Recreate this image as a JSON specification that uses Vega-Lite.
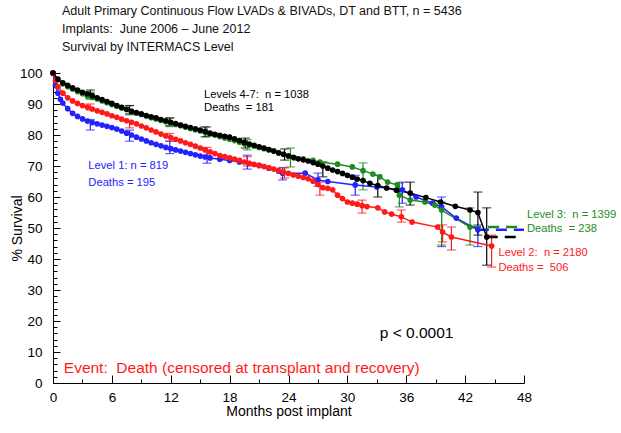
{
  "$schema": "https://vega.github.io/schema/vega-lite/v6.json",
  "width": 471,
  "height": 310,
  "autosize": "none",
  "padding": {"left": 53, "top": 73, "right": 97, "bottom": 50},
  "background": "white",
  "config": {"view": {"stroke": null}, "font": "Liberation Sans"},
  "title": {
    "text": ["Adult Primary Continuous Flow LVADs & BIVADs, DT and BTT, n = 5436", "Implants:\u00a0 June 2006 \u2013 June 2012", "Survival by INTERMACS Level"],
    "anchor": "start", "frame": "group", "dx": 9, "fontSize": 12.5, "fontWeight": "normal",
    "font": "Liberation Sans", "color": "#111", "lineHeight": 18, "baseline": "bottom", "offset": 0
  },
  "datasets": {
    "surv": [
      {"g":"1","m":0,"s":100},{"g":"1","m":0.25,"s":96},{"g":"1","m":0.5,"s":93.5},{"g":"1","m":0.75,"s":91.5},{"g":"1","m":1,"s":90.3},{"g":"1","m":1.5,"s":88.5},{"g":"1","m":2,"s":87},{"g":"1","m":2.5,"s":86},{"g":"1","m":3,"s":85.2},{"g":"1","m":3.5,"s":84.5},{"g":"1","m":4,"s":84},{"g":"1","m":4.5,"s":83.6},{"g":"1","m":5,"s":83.2},{"g":"1","m":5.5,"s":82.8},{"g":"1","m":6,"s":82.4},{"g":"1","m":6.5,"s":81.9},{"g":"1","m":7,"s":81.3},{"g":"1","m":7.5,"s":80.6},{"g":"1","m":8,"s":80},{"g":"1","m":8.5,"s":79.3},{"g":"1","m":9,"s":78.7},{"g":"1","m":9.5,"s":78.1},{"g":"1","m":10,"s":77.5},{"g":"1","m":10.5,"s":77},{"g":"1","m":11,"s":76.5},{"g":"1","m":11.5,"s":76},{"g":"1","m":12,"s":75.6},{"g":"1","m":12.5,"s":75.2},{"g":"1","m":13,"s":74.8},{"g":"1","m":13.5,"s":74.4},{"g":"1","m":14,"s":74},{"g":"1","m":14.5,"s":73.6},{"g":"1","m":15,"s":73.2},{"g":"1","m":15.5,"s":72.9},{"g":"1","m":16,"s":72.6},{"g":"1","m":17,"s":72.2},{"g":"1","m":18,"s":71.8},{"g":"1","m":19,"s":71.3},{"g":"1","m":20,"s":70.8},{"g":"1","m":21,"s":70.2},{"g":"1","m":22,"s":69.3},{"g":"1","m":23,"s":68.3},{"g":"1","m":23.4,"s":67.7},{"g":"1","m":25.7,"s":67.7},{"g":"1","m":27,"s":65.5},{"g":"1","m":28,"s":65},{"g":"1","m":30.8,"s":63.9},{"g":"1","m":33,"s":63.2},{"g":"1","m":35.6,"s":62.3},{"g":"1","m":37,"s":60},{"g":"1","m":38.7,"s":58},{"g":"1","m":39.6,"s":56.8},{"g":"1","m":41.1,"s":53.2},{"g":"1","m":43.3,"s":49.4},

      {"g":"3","m":0,"s":100},{"g":"3","m":0.5,"s":97.8},{"g":"3","m":1,"s":96.5},{"g":"3","m":1.5,"s":95.6},{"g":"3","m":2,"s":94.8},{"g":"3","m":2.5,"s":94},{"g":"3","m":3,"s":93.3},{"g":"3","m":3.5,"s":92.6},{"g":"3","m":4,"s":92.1},{"g":"3","m":4.5,"s":91.6},{"g":"3","m":5,"s":91},{"g":"3","m":5.5,"s":90.4},{"g":"3","m":6,"s":89.8},{"g":"3","m":6.5,"s":89.3},{"g":"3","m":7,"s":88.7},{"g":"3","m":7.5,"s":88.2},{"g":"3","m":8,"s":87.6},{"g":"3","m":8.5,"s":87.1},{"g":"3","m":9,"s":86.6},{"g":"3","m":9.5,"s":86.1},{"g":"3","m":10,"s":85.6},{"g":"3","m":10.5,"s":85.2},{"g":"3","m":11,"s":84.7},{"g":"3","m":11.5,"s":84.3},{"g":"3","m":12,"s":83.8},{"g":"3","m":12.5,"s":83.4},{"g":"3","m":13,"s":83},{"g":"3","m":13.5,"s":82.5},{"g":"3","m":14,"s":82.1},{"g":"3","m":14.5,"s":81.7},{"g":"3","m":15,"s":81.3},{"g":"3","m":15.5,"s":80.9},{"g":"3","m":16,"s":80.4},{"g":"3","m":16.5,"s":80},{"g":"3","m":17,"s":79.5},{"g":"3","m":17.5,"s":79},{"g":"3","m":18,"s":78.6},{"g":"3","m":18.5,"s":78.2},{"g":"3","m":19,"s":77.7},{"g":"3","m":19.5,"s":77.2},{"g":"3","m":20,"s":76.8},{"g":"3","m":20.5,"s":76.4},{"g":"3","m":21,"s":76},{"g":"3","m":21.5,"s":75.6},{"g":"3","m":22,"s":75.2},{"g":"3","m":22.5,"s":74.8},{"g":"3","m":23,"s":74.3},{"g":"3","m":23.5,"s":73.8},{"g":"3","m":24,"s":73.3},{"g":"3","m":24.6,"s":72.6},{"g":"3","m":25.5,"s":72.3},{"g":"3","m":26.5,"s":71.8},{"g":"3","m":27.2,"s":71.3},{"g":"3","m":29,"s":70.6},{"g":"3","m":30.5,"s":69.7},{"g":"3","m":31.6,"s":68.5},{"g":"3","m":32.6,"s":67.4},{"g":"3","m":33.3,"s":66.5},{"g":"3","m":34.1,"s":64.8},{"g":"3","m":35.1,"s":63.9},{"g":"3","m":35.3,"s":60.6},{"g":"3","m":36.4,"s":59},{"g":"3","m":37.9,"s":58.4},{"g":"3","m":38.9,"s":57.4},{"g":"3","m":39.6,"s":55.8},{"g":"3","m":42.5,"s":50.3},

      {"g":"2","m":0,"s":100},{"g":"2","m":0.25,"s":97.5},{"g":"2","m":0.5,"s":95.5},{"g":"2","m":1,"s":93.5},{"g":"2","m":1.5,"s":92},{"g":"2","m":2,"s":91},{"g":"2","m":2.5,"s":90.2},{"g":"2","m":3,"s":89.5},{"g":"2","m":3.5,"s":89},{"g":"2","m":4,"s":88.4},{"g":"2","m":4.5,"s":87.8},{"g":"2","m":5,"s":87.3},{"g":"2","m":5.5,"s":86.8},{"g":"2","m":6,"s":86.2},{"g":"2","m":6.5,"s":85.7},{"g":"2","m":7,"s":85.1},{"g":"2","m":7.5,"s":84.6},{"g":"2","m":8,"s":84.1},{"g":"2","m":8.5,"s":83.6},{"g":"2","m":9,"s":82.9},{"g":"2","m":9.5,"s":82.3},{"g":"2","m":10,"s":81.6},{"g":"2","m":10.5,"s":81},{"g":"2","m":11,"s":80.3},{"g":"2","m":11.5,"s":79.7},{"g":"2","m":12,"s":79.2},{"g":"2","m":12.5,"s":78.6},{"g":"2","m":13,"s":78.1},{"g":"2","m":13.5,"s":77.5},{"g":"2","m":14,"s":77},{"g":"2","m":14.5,"s":76.4},{"g":"2","m":15,"s":75.8},{"g":"2","m":15.5,"s":75.2},{"g":"2","m":16,"s":74.6},{"g":"2","m":16.5,"s":74},{"g":"2","m":17,"s":73.4},{"g":"2","m":17.5,"s":73},{"g":"2","m":18,"s":72.6},{"g":"2","m":18.5,"s":72.2},{"g":"2","m":19,"s":71.8},{"g":"2","m":19.5,"s":71.3},{"g":"2","m":20,"s":70.9},{"g":"2","m":20.5,"s":70.5},{"g":"2","m":21,"s":70.2},{"g":"2","m":21.5,"s":69.8},{"g":"2","m":22,"s":69.4},{"g":"2","m":22.5,"s":69},{"g":"2","m":23,"s":68.5},{"g":"2","m":23.5,"s":68},{"g":"2","m":24,"s":67.6},{"g":"2","m":24.5,"s":67.1},{"g":"2","m":25,"s":66.7},{"g":"2","m":25.5,"s":66.3},{"g":"2","m":26,"s":65.9},{"g":"2","m":26.5,"s":65.1},{"g":"2","m":27,"s":64},{"g":"2","m":27.5,"s":63},{"g":"2","m":28,"s":62.8},{"g":"2","m":28.5,"s":62.3},{"g":"2","m":29,"s":60.6},{"g":"2","m":29.5,"s":59.5},{"g":"2","m":30,"s":58.4},{"g":"2","m":30.5,"s":58},{"g":"2","m":31,"s":57.7},{"g":"2","m":31.5,"s":57.2},{"g":"2","m":32,"s":56.9},{"g":"2","m":33.1,"s":56.5},{"g":"2","m":33.8,"s":55.2},{"g":"2","m":34.5,"s":54.5},{"g":"2","m":35.5,"s":53.6},{"g":"2","m":36.6,"s":51.9},{"g":"2","m":39.2,"s":50.3},{"g":"2","m":39.7,"s":48.7},{"g":"2","m":40.6,"s":47.1},{"g":"2","m":44.7,"s":44.2},

      {"g":"4-7","m":0,"s":100},{"g":"4-7","m":0.5,"s":98},{"g":"4-7","m":1,"s":96.8},{"g":"4-7","m":1.5,"s":96},{"g":"4-7","m":2,"s":95.2},{"g":"4-7","m":2.5,"s":94.5},{"g":"4-7","m":3,"s":93.8},{"g":"4-7","m":3.5,"s":93.3},{"g":"4-7","m":4,"s":92.7},{"g":"4-7","m":4.5,"s":92},{"g":"4-7","m":5,"s":91.4},{"g":"4-7","m":5.5,"s":90.8},{"g":"4-7","m":6,"s":90.2},{"g":"4-7","m":6.5,"s":89.5},{"g":"4-7","m":7,"s":88.9},{"g":"4-7","m":7.5,"s":88.3},{"g":"4-7","m":8,"s":87.6},{"g":"4-7","m":8.5,"s":87.2},{"g":"4-7","m":9,"s":86.8},{"g":"4-7","m":9.5,"s":86.3},{"g":"4-7","m":10,"s":85.9},{"g":"4-7","m":10.5,"s":85.5},{"g":"4-7","m":11,"s":85},{"g":"4-7","m":11.5,"s":84.6},{"g":"4-7","m":12,"s":84.1},{"g":"4-7","m":12.5,"s":83.7},{"g":"4-7","m":13,"s":83.2},{"g":"4-7","m":13.5,"s":82.8},{"g":"4-7","m":14,"s":82.4},{"g":"4-7","m":14.5,"s":82},{"g":"4-7","m":15,"s":81.6},{"g":"4-7","m":15.5,"s":81.1},{"g":"4-7","m":16,"s":80.6},{"g":"4-7","m":16.5,"s":80.2},{"g":"4-7","m":17,"s":79.9},{"g":"4-7","m":17.5,"s":79.6},{"g":"4-7","m":18,"s":79.3},{"g":"4-7","m":18.5,"s":78.8},{"g":"4-7","m":19,"s":78.2},{"g":"4-7","m":19.5,"s":77.6},{"g":"4-7","m":20,"s":77.1},{"g":"4-7","m":20.5,"s":76.7},{"g":"4-7","m":21,"s":76.2},{"g":"4-7","m":21.5,"s":75.8},{"g":"4-7","m":22,"s":75.3},{"g":"4-7","m":22.5,"s":74.8},{"g":"4-7","m":23,"s":74.2},{"g":"4-7","m":23.5,"s":73.8},{"g":"4-7","m":24,"s":73.2},{"g":"4-7","m":24.5,"s":72.8},{"g":"4-7","m":25,"s":72.3},{"g":"4-7","m":25.5,"s":72},{"g":"4-7","m":26,"s":71.6},{"g":"4-7","m":26.5,"s":71.1},{"g":"4-7","m":27,"s":70.6},{"g":"4-7","m":27.5,"s":70},{"g":"4-7","m":28,"s":69.3},{"g":"4-7","m":28.5,"s":68.7},{"g":"4-7","m":29,"s":68.2},{"g":"4-7","m":29.5,"s":67.6},{"g":"4-7","m":30,"s":67},{"g":"4-7","m":30.5,"s":66.4},{"g":"4-7","m":31,"s":65.8},{"g":"4-7","m":31.6,"s":65.3},{"g":"4-7","m":32.3,"s":64.4},{"g":"4-7","m":33.1,"s":63.7},{"g":"4-7","m":34,"s":62.9},{"g":"4-7","m":35,"s":62.2},{"g":"4-7","m":36.4,"s":61.3},{"g":"4-7","m":38,"s":59.8},{"g":"4-7","m":39.5,"s":58.4},{"g":"4-7","m":41,"s":57},{"g":"4-7","m":42.5,"s":55.8},{"g":"4-7","m":43.3,"s":55},{"g":"4-7","m":44.2,"s":47.1}
    ],
    "tail": [
      {"g":"1","m":43.3,"s":49.4},{"g":"1","m":48,"s":49.4},
      {"g":"3","m":42.5,"s":50.3},{"g":"3","m":48,"s":50.3},
      {"g":"4-7","m":44.2,"s":47.1},{"g":"4-7","m":47.8,"s":47.1}
    ],
    "err": [
      {"g":"1","m":3.8,"lo":81.6,"hi":85},{"g":"1","m":7.8,"lo":78,"hi":81.6},{"g":"1","m":11.9,"lo":74,"hi":78},{"g":"1","m":15.7,"lo":70.9,"hi":75},{"g":"1","m":19.8,"lo":69,"hi":73.5},{"g":"1","m":23.4,"lo":65.5,"hi":69.5},{"g":"1","m":27,"lo":63.5,"hi":67.7},{"g":"1","m":30.8,"lo":60.6,"hi":67},{"g":"1","m":35.6,"lo":58,"hi":64.8},{"g":"1","m":39.6,"lo":44,"hi":60},{"g":"1","m":43.3,"lo":44,"hi":51},
      {"g":"3","m":3.8,"lo":91.5,"hi":93.8},{"g":"3","m":7.8,"lo":86.5,"hi":89.5},{"g":"3","m":11.9,"lo":82.7,"hi":85.5},{"g":"3","m":15.7,"lo":79.5,"hi":82.6},{"g":"3","m":19.8,"lo":75.2,"hi":78.5},{"g":"3","m":24.2,"lo":69.7,"hi":75.8},{"g":"3","m":31.6,"lo":62.3,"hi":71},{"g":"3","m":35.3,"lo":56.8,"hi":64.5},{"g":"3","m":39.6,"lo":44.5,"hi":58.4},{"g":"3","m":42.5,"lo":44.5,"hi":56.5},
      {"g":"2","m":3.8,"lo":88,"hi":90},{"g":"2","m":7.8,"lo":82.3,"hi":84.5},{"g":"2","m":11.9,"lo":78,"hi":80.5},{"g":"2","m":15.7,"lo":73.5,"hi":76},{"g":"2","m":19.8,"lo":70,"hi":73},{"g":"2","m":23.6,"lo":66.1,"hi":69.4},{"g":"2","m":27.2,"lo":60.6,"hi":64.8},{"g":"2","m":31.5,"lo":54.8,"hi":59},{"g":"2","m":35.5,"lo":51.9,"hi":55.8},{"g":"2","m":39.7,"lo":45.5,"hi":51},{"g":"2","m":40.6,"lo":42.9,"hi":50.3},{"g":"2","m":44.7,"lo":37.4,"hi":47.7},
      {"g":"4-7","m":3.8,"lo":92,"hi":94.5},{"g":"4-7","m":7.8,"lo":86.8,"hi":89.5},{"g":"4-7","m":11.9,"lo":83,"hi":85.5},{"g":"4-7","m":15.5,"lo":79.4,"hi":82.6},{"g":"4-7","m":19.6,"lo":75.8,"hi":79},{"g":"4-7","m":23.6,"lo":71.9,"hi":75.5},{"g":"4-7","m":27.5,"lo":66.5,"hi":71.3},{"g":"4-7","m":33.1,"lo":60,"hi":67},{"g":"4-7","m":36.4,"lo":57.4,"hi":64.8},{"g":"4-7","m":43.3,"lo":47.7,"hi":61.6},{"g":"4-7","m":44.2,"lo":38,"hi":56.5}
    ],
    "labels": [
      {"g":"4-7","m":15.4,"s":92.9,"t":"Levels 4-7:\u00a0 n = 1038"},
      {"g":"4-7","m":15.4,"s":88.7,"t":"Deaths\u00a0 = 181"},
      {"g":"1","m":3.6,"s":70,"t":"Level 1: n = 819"},
      {"g":"1","m":3.6,"s":64.5,"t":"Deaths = 195"},
      {"g":"3","m":48.3,"s":54.2,"t":"Level 3:\u00a0 n = 1399"},
      {"g":"3","m":48.3,"s":49.7,"t":"Deaths\u00a0 = 238"},
      {"g":"2","m":45.4,"s":41.9,"t":"Level 2:\u00a0 n = 2180"},
      {"g":"2","m":45.4,"s":37.1,"t":"Deaths =\u00a0 506"}
    ],
    "notes": [
      {"g":"4-7","m":33.3,"s":16.1,"t":"p < 0.0001"},
      {"g":"2","m":1.1,"s":4.8,"t":"Event:\u00a0 Death (censored at transplant and recovery)"}
    ]
  },
  "encoding": {
    "x": {"field": "m", "type": "quantitative",
      "scale": {"domain": [0, 48], "nice": false},
      "axis": {"title": "Months post implant", "values": [0,3,6,9,12,15,18,21,24,27,30,33,36,39,42,45,48],
        "labelExpr": "datum.value % 6 == 0 ? datum.label : ''",
        "grid": false, "domainColor": "#000", "tickColor": "#000",
        "tickSize": {"condition": {"test": "datum.value % 6 == 0", "value": -8}, "value": -4},
        "labelFontSize": 13.5, "labelColor": "#000", "labelFont": "Liberation Sans", "labelPadding": 15,
        "titleFontSize": 14, "titleFontWeight": "normal", "titleColor": "#000", "titleFont": "Liberation Sans", "titlePadding": 1, "labelFlush": false}},
    "y": {"field": "s", "type": "quantitative",
      "scale": {"domain": [0, 100], "nice": false},
      "axis": {"title": "% Survival", "values": [0,2,4,6,8,10,12,14,16,18,20,22,24,26,28,30,32,34,36,38,40,42,44,46,48,50,52,54,56,58,60,62,64,66,68,70,72,74,76,78,80,82,84,86,88,90,92,94,96,98,100],
        "labelExpr": "datum.value % 10 == 0 ? datum.label : ''",
        "grid": false, "domainColor": "#000", "tickColor": "#000",
        "tickSize": {"condition": {"test": "datum.value % 10 == 0", "value": -7}, "value": -4},
        "labelFontSize": 13.5, "labelColor": "#000", "labelFont": "Liberation Sans", "labelPadding": 18,
        "titleFontSize": 14, "titleFontWeight": "normal", "titleColor": "#000", "titleFont": "Liberation Sans", "titlePadding": -5, "labelFlush": false}},
    "color": {"field": "g", "type": "nominal", "legend": null,
      "scale": {"domain": ["1", "3", "2", "4-7"], "range": ["#2222ff", "#1e8c1e", "#ff1a1a", "#000000"]}}
  },
  "layer": [
    {"data": {"name": "err"}, "mark": {"type": "errorbar", "ticks": {"size": 9, "thickness": 1.2}, "thickness": 1.2},
      "encoding": {"y": {"field": "lo", "type": "quantitative"}, "y2": {"field": "hi"}}},
    {"data": {"name": "tail"}, "mark": {"type": "line", "strokeDash": [11, 7], "strokeWidth": 2.5},
      "encoding": {}},
    {"data": {"name": "surv"}, "mark": {"type": "line", "strokeWidth": 1.5, "point": {"filled": true, "size": 32, "opacity": 1}},
      "encoding": {}},
    {"data": {"name": "labels"}, "mark": {"type": "text", "align": "left", "baseline": "middle", "fontSize": 11.2, "font": "Liberation Sans"},
      "encoding": {"text": {"field": "t"}}},
    {"data": {"name": "notes"}, "mark": {"type": "text", "align": "left", "baseline": "middle", "fontSize": 15.5, "font": "Liberation Sans"},
      "encoding": {"text": {"field": "t"}}}
  ]
}
